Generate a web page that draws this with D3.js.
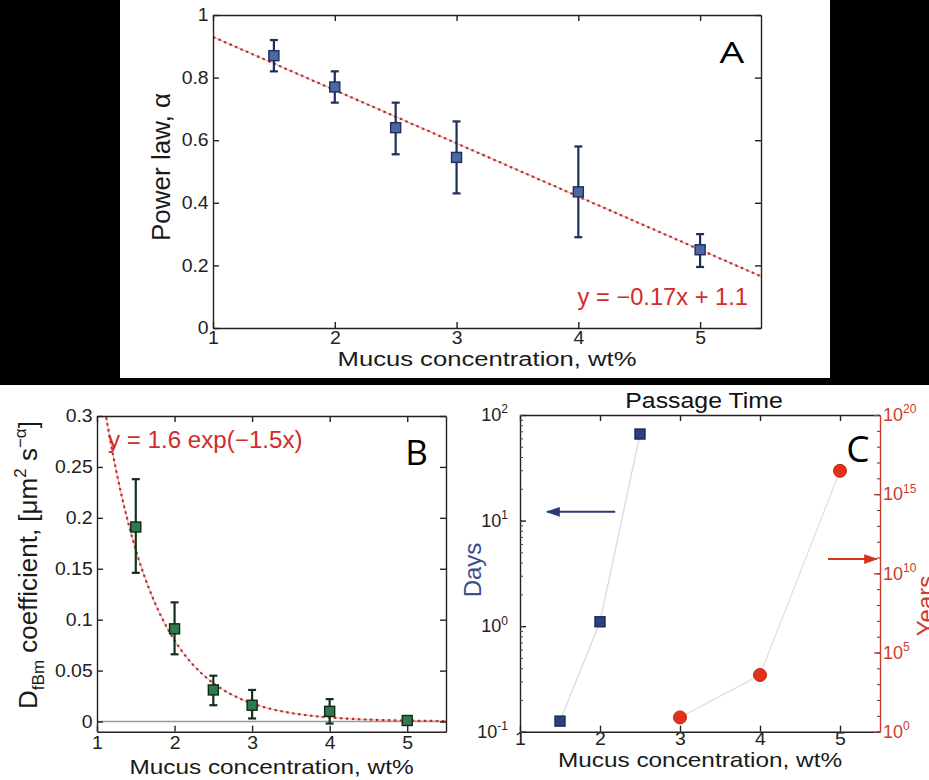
<!DOCTYPE html>
<html lang="en">
<head>
<meta charset="utf-8">
<style>
  body { margin: 0; background: white; }
  svg { display: block; font-family: 'Liberation Sans', Arial, sans-serif; }
  .axis path, .axis line { stroke: #222; stroke-width: 1.4px; }
  .axis text { fill: #222; font-size: 18px; font-family: 'Liberation Sans', Arial, sans-serif; }
  .red path, .red line { stroke: #cf3b2c; }
  .minor line { stroke: #444; stroke-width: 1px; }
</style>
</head>
<body>
<svg width="929" height="780"></svg>
<script src="https://d3js.org/d3.v7.min.js"></script>
<script>
// panel A - power law exponent vs mucus concentration
var conc = [1.5, 2, 2.5, 3, 4, 5];
var alpha = [0.87, 0.77, 0.64, 0.545, 0.435, 0.25];
var alphaLo = [0.82, 0.72, 0.555, 0.43, 0.29, 0.195];
var alphaHi = [0.92, 0.82, 0.72, 0.66, 0.58, 0.30];
var fitA = [-0.17, 1.1];            // slope, intercept

// panel B - D_fBm coefficient
var dfbm = [0.191, 0.091, 0.031, 0.016, 0.010, 0.001];
var dfbmLo = [0.146, 0.066, 0.016, 0.003, -0.002, 0.001];
var dfbmHi = [0.238, 0.117, 0.045, 0.031, 0.022, 0.001];
var fitB = [1.6, -1.5];             // amplitude, rate

// panel C - passage time
var daysConc = [1.5, 2, 2.5];
var days = [0.126, 1.1, 66];
var yearsConc = [3, 4, 5];
var years = [8, 3800, 3e16];

var xTicks = [1, 2, 3, 4, 5];
var alphaTicks = [0, 0.2, 0.4, 0.6, 0.8, 1];
var dfbmTicks = [0, 0.05, 0.1, 0.15, 0.2, 0.25, 0.3];
var dayTicks = [0.1, 1, 10, 100];
var yearTicks = [1, 1e5, 1e10, 1e15, 1e20];

var svg = d3.select("svg");
var red = "#d02c2c";

// black frame around panel A
svg.append("rect").attr("x", 0).attr("y", 0).attr("width", 120).attr("height", 378).attr("fill", "#000");
svg.append("rect").attr("x", 830).attr("y", 0).attr("width", 99).attr("height", 378).attr("fill", "#000");
svg.append("rect").attr("x", 0).attr("y", 378).attr("width", 929).attr("height", 7).attr("fill", "#000");

var defs = svg.append("defs");
[["arrBlue", "#2c3a78"], ["arrRed", "#d8321f"]].forEach(function (m) {
  defs.append("marker").attr("id", m[0]).attr("viewBox", "0 0 10 10")
      .attr("refX", 9).attr("refY", 5).attr("markerWidth", 7).attr("markerHeight", 7)
      .attr("orient", "auto-start-reverse")
    .append("path").attr("d", "M0,1.5 L10,5 L0,8.5 Z").attr("fill", m[1]);
});

function label(g, x, y, str, o) {
  o = o || {};
  var tr = "translate(" + x + "," + y + ")";
  if (o.rot) tr += " rotate(" + o.rot + ")";
  if (o.sx) tr += " scale(" + o.sx + ",1)";
  var t = g.append("text").attr("transform", tr)
      .attr("text-anchor", o.anchor || "middle")
      .style("font-size", (o.size || 21) + "px")
      .attr("fill", o.color || "#1a1a1a");
  if (o.family) t.style("font-family", o.family);
  if (str) t.text(str);
  return t;
}

// matlab-like box with inward ticks
function box(g, x, y, yTicks, yFmt, opt) {
  opt = opt || {};
  var y0 = y.range()[0], y1 = y.range()[1];
  var bx = g.append("g").attr("class", "axis").attr("transform", "translate(0," + y0 + ")")
    .call(d3.axisBottom(x).tickValues(xTicks).tickSize(-6).tickSizeOuter(0).tickPadding(opt.xpad || 4).tickFormat(d3.format("d")));
  bx.selectAll("text").attr("transform", "scale(1.08,1)").style("font-size", (opt.xsize || 19) + "px");
  g.append("g").attr("class", "axis").attr("transform", "translate(0," + y1 + ")")
    .call(d3.axisTop(x).tickValues(xTicks).tickSize(-6).tickSizeOuter(0).tickFormat(""));
  if (opt.noY) return;
  var ly = g.append("g").attr("class", "axis").attr("transform", "translate(" + x.range()[0] + ",0)")
    .call(d3.axisLeft(y).tickValues(yTicks).tickSize(-6).tickSizeOuter(0).tickPadding(opt.ypad || 4).tickFormat(yFmt));
  ly.selectAll("text").attr("transform", "scale(1.08,1)");
  g.append("g").attr("class", "axis").attr("transform", "translate(" + x.range()[1] + ",0)")
    .call(d3.axisRight(y).tickValues(yTicks).tickSize(-6).tickSizeOuter(0).tickFormat(""));
}

function errorBars(g, x, y, xs, lo, hi, col) {
  var eb = g.append("g").attr("stroke", col).attr("stroke-width", 2.2);
  xs.forEach(function (c, i) {
    if (lo[i] === hi[i]) return;
    eb.append("line").attr("x1", x(c)).attr("x2", x(c)).attr("y1", y(lo[i])).attr("y2", y(hi[i]));
    eb.append("line").attr("x1", x(c) - 4).attr("x2", x(c) + 4).attr("y1", y(lo[i])).attr("y2", y(lo[i]));
    eb.append("line").attr("x1", x(c) - 4).attr("x2", x(c) + 4).attr("y1", y(hi[i])).attr("y2", y(hi[i]));
  });
}

function squares(g, x, y, xs, ys, fill, stroke) {
  g.append("g").selectAll("rect").data(xs).join("rect")
    .attr("x", function (d) { return x(d) - 5; })
    .attr("y", function (d, i) { return y(ys[i]) - 5; })
    .attr("width", 10).attr("height", 10)
    .attr("fill", fill).attr("stroke", stroke).attr("stroke-width", 1.4);
}

function dotted(g, path) {
  g.append("path").attr("d", path).attr("fill", "none").attr("stroke", "#f2a0a0").attr("stroke-width", 1);
  g.append("path").attr("d", path).attr("fill", "none").attr("stroke", "#b83030")
    .attr("stroke-width", 2.2).attr("stroke-dasharray", "2.5,3.5");
}

var fmt = d3.format("~g");

// ---------------- panel A ----------------
var xA = d3.scaleLinear().domain([1, 5.5]).range([213, 761]);
var yA = d3.scaleLinear().domain([0, 1]).range([328, 15]);
var gA = svg.append("g");
gA.append("rect").attr("x", 213).attr("y", 15).attr("width", 548).attr("height", 313).attr("fill", "#fff");
var lineA = d3.line().x(function (d) { return xA(d); }).y(function (d) { return yA(fitA[0] * d + fitA[1]); });
dotted(gA, lineA([1, 5.5]));
errorBars(gA, xA, yA, conc, alphaLo, alphaHi, "#1f2d5a");
squares(gA, xA, yA, conc, alpha, "#4a67a6", "#1f2d5a");
box(gA, xA, yA, alphaTicks, fmt, { xpad: 3, xsize: 18 });
label(gA, 170, 167, "Power law, \u03b1", { rot: -90, size: 26 });
label(gA, 487, 366, "Mucus concentration, wt%", { size: 21, sx: 1.22 });
label(gA, 732, 63, "A", { size: 29, sx: 1.35, family: "'Open Sans', sans-serif", color: "#000" });
label(gA, 748, 305, "y = \u22120.17x + 1.1", { anchor: "end", size: 23, sx: 1.03, color: red });

// ---------------- panel B ----------------
var xB = d3.scaleLinear().domain([1, 5.5]).range([97, 446]);
var yB = d3.scaleLinear().domain([-0.01, 0.3]).range([731.7, 416]);
var gB = svg.append("g");
defs.append("clipPath").attr("id", "clipB").append("rect")
  .attr("x", 97).attr("y", 416).attr("width", 349).attr("height", 316);
gB.append("line").attr("x1", xB(1)).attr("x2", xB(5.5)).attr("y1", yB(0)).attr("y2", yB(0))
  .attr("stroke", "#9a9a9a").attr("stroke-width", 1.6);
var fitXs = d3.range(1, 5.52, 0.02);
var lineB = d3.line().x(function (d) { return xB(d); })
  .y(function (d) { return yB(fitB[0] * Math.exp(fitB[1] * d)); });
dotted(gB.append("g").attr("clip-path", "url(#clipB)"), lineB(fitXs));
errorBars(gB, xB, yB, conc, dfbmLo, dfbmHi, "#14301c");
squares(gB, xB, yB, conc, dfbm, "#2f7b4e", "#0e2a16");
box(gB, xB, yB, dfbmTicks, fmt, { xpad: 5, xsize: 18 });
var tB = label(gB, 37, 565, null, { rot: -90, size: 26 });
tB.append("tspan").text("D");
tB.append("tspan").attr("dy", 7).style("font-size", "17px").text("fBm");
tB.append("tspan").attr("dy", -7).text(" coefficient, [\u03bcm");
tB.append("tspan").attr("dy", -11).style("font-size", "17px").text("2");
tB.append("tspan").attr("dy", 11).text(" s");
tB.append("tspan").attr("dy", -11).style("font-size", "17px").text("\u2212\u03b1");
tB.append("tspan").attr("dy", 11).text("]");
label(gB, 271.5, 774, "Mucus concentration, wt%", { size: 21, sx: 1.16 });
label(gB, 416.5, 465, "B", { size: 35, family: "'Open Sans', sans-serif", color: "#000" });
label(gB, 108, 448, "y = 1.6 exp(\u22121.5x)", { anchor: "start", size: 23, sx: 1.05, color: red });

// ---------------- panel C ----------------
var xC = d3.scaleLinear().domain([1, 5.5]).range([520, 880]);
var yL = d3.scaleLog().domain([0.1, 100]).range([731.7, 415]);
var yR = d3.scaleLog().domain([1, 1e20]).range([731.7, 415]);
var gC = svg.append("g");

box(gC, xC, yL, [], null, { noY: true, xpad: 1, xsize: 18 });
// left log axis
var la = gC.append("g").attr("class", "axis").attr("transform", "translate(520,0)")
  .call(d3.axisLeft(yL).tickValues(dayTicks).tickSize(-6).tickSizeOuter(0).tickFormat(""));
gC.append("g").attr("class", "axis minor").attr("transform", "translate(520,0)")
  .call(d3.axisLeft(yL).tickValues(yL.ticks()).tickSize(-3).tickFormat("")).select(".domain").remove();
la.selectAll(".tick").append("text").attr("x", -12).attr("dy", "0.32em").attr("text-anchor", "end")
  .each(function (d) {
    var t = d3.select(this);
    t.append("tspan").text("10");
    t.append("tspan").attr("dy", "-0.65em").style("font-size", "12px").text(Math.round(Math.log10(d)));
  });
// right log axis (years)
var ra = gC.append("g").attr("class", "axis red").attr("transform", "translate(880,0)")
  .call(d3.axisRight(yR).tickValues(yearTicks).tickSize(-6).tickSizeOuter(0).tickFormat(""));
gC.append("g").attr("class", "axis red minor").attr("transform", "translate(880,0)")
  .call(d3.axisRight(yR).tickValues(d3.range(0, 21).map(function (e) { return Math.pow(10, e); }))
    .tickSize(-3).tickFormat("")).select(".domain").remove();
ra.selectAll(".tick").append("text").attr("x", 3).attr("dy", "0.32em").attr("text-anchor", "start")
  .style("fill", "#cf3b2c")
  .each(function (d) {
    var t = d3.select(this);
    t.append("tspan").text("10");
    t.append("tspan").attr("dy", "-0.65em").style("font-size", "12px").text(Math.round(Math.log10(d)));
  });

var lineDays = d3.line().x(function (d) { return xC(d); }).y(function (d, i) { return yL(days[i]); });
var lineYears = d3.line().x(function (d) { return xC(d); }).y(function (d, i) { return yR(years[i]); });
gC.append("path").attr("d", lineDays(daysConc)).attr("fill", "none").attr("stroke", "#d4d6e2").attr("stroke-width", 1.2);
gC.append("path").attr("d", lineYears(yearsConc)).attr("fill", "none").attr("stroke", "#e2dede").attr("stroke-width", 1.2);
squares(gC, xC, yL, daysConc, days, "#2b4180", "#1b2a5a");
gC.append("g").selectAll("circle").data(yearsConc).join("circle")
  .attr("cx", function (d) { return xC(d); })
  .attr("cy", function (d, i) { return yR(years[i]); })
  .attr("r", 6.5).attr("fill", "#e2321c").attr("stroke", "#c42412").attr("stroke-width", 1);

// arrows pointing to each axis
gC.append("line").attr("x1", xC(2.19)).attr("x2", xC(1.34)).attr("y1", yL(12.1)).attr("y2", yL(12.1))
  .attr("stroke", "#2c3a78").attr("stroke-width", 2).attr("marker-end", "url(#arrBlue)");
gC.append("line").attr("x1", xC(4.85)).attr("x2", xC(5.46)).attr("y1", yR(8e10)).attr("y2", yR(8e10))
  .attr("stroke", "#d8321f").attr("stroke-width", 2).attr("marker-end", "url(#arrRed)");

label(gC, 704, 408, "Passage Time", { size: 22, sx: 1.13, color: "#111" });
label(gC, 481, 570, "Days", { rot: -90, size: 24, color: "#3b4f8f" });
label(gC, 934, 606, "Years", { rot: -90, size: 24, color: "#cf3b2c" });
label(gC, 700, 767, "Mucus concentration, wt%", { size: 21, sx: 1.16 });
label(gC, 858, 462, "C", { size: 37, family: "'Open Sans', sans-serif", color: "#000" });
</script>
</body>
</html>
